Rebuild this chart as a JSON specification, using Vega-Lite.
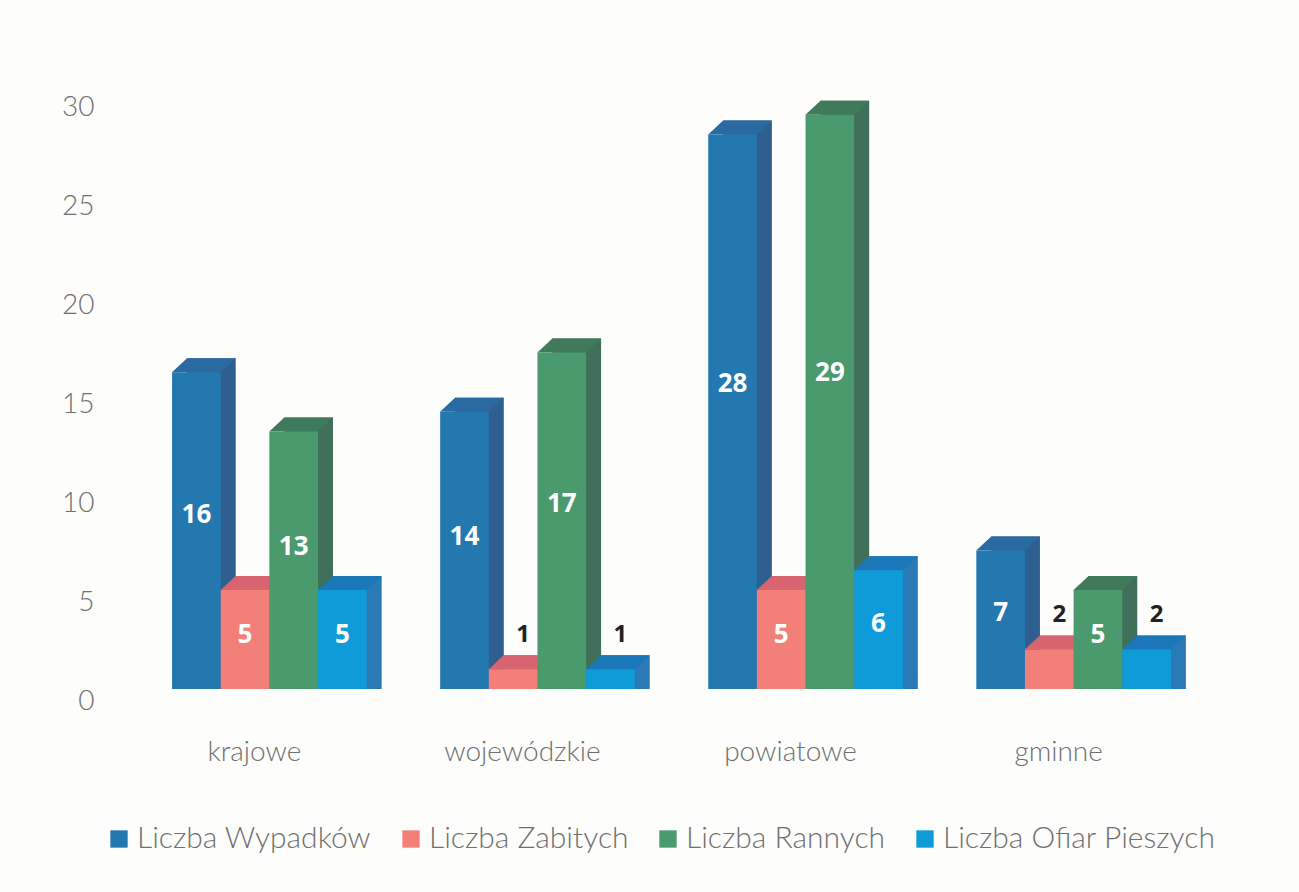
{
"$schema":"https://vega.github.io/schema/vega-lite/v6.json",
"autosize":{"type":"none"},
"padding":{"left":134,"top":95,"right":90,"bottom":203},
"width":1075,"height":594,
"background":"#fdfdfb",
"config":{"view":{"stroke":null},"font":"Lato"},
"data":{"values":[
{"droga":"krajowe","seria":"Liczba Wypadków","wartosc":16},
{"droga":"krajowe","seria":"Liczba Zabitych","wartosc":5},
{"droga":"krajowe","seria":"Liczba Rannych","wartosc":13},
{"droga":"krajowe","seria":"Liczba Ofiar Pieszych","wartosc":5},
{"droga":"wojewódzkie","seria":"Liczba Wypadków","wartosc":14},
{"droga":"wojewódzkie","seria":"Liczba Zabitych","wartosc":1},
{"droga":"wojewódzkie","seria":"Liczba Rannych","wartosc":17},
{"droga":"wojewódzkie","seria":"Liczba Ofiar Pieszych","wartosc":1},
{"droga":"powiatowe","seria":"Liczba Wypadków","wartosc":28},
{"droga":"powiatowe","seria":"Liczba Zabitych","wartosc":5},
{"droga":"powiatowe","seria":"Liczba Rannych","wartosc":29},
{"droga":"powiatowe","seria":"Liczba Ofiar Pieszych","wartosc":6},
{"droga":"gminne","seria":"Liczba Wypadków","wartosc":7},
{"droga":"gminne","seria":"Liczba Zabitych","wartosc":2},
{"droga":"gminne","seria":"Liczba Rannych","wartosc":5},
{"droga":"gminne","seria":"Liczba Ofiar Pieszych","wartosc":2}
]},
"encoding":{
"x":{"field":"droga","type":"nominal","sort":["krajowe","wojewódzkie","powiatowe","gminne"],
 "scale":{"paddingInner":0.274,"paddingOuter":0.142},
 "axis":{"title":null,"domain":false,"ticks":false,"labelAngle":0,"labelFontSize":28,"labelColor":"#707070","labelFontWeight":300,"labelOffset":-15,"labelPadding":63,"labelBaseline":"middle"}},
"xOffset":{"field":"seria","type":"nominal","sort":["Liczba Wypadków","Liczba Zabitych","Liczba Rannych","Liczba Ofiar Pieszych"],"scale":{"type":"band","domain":["Liczba Wypadków","Liczba Zabitych","Liczba Rannych","Liczba Ofiar Pieszych"],"paddingInner":0,"paddingOuter":0}},
"y":{"field":"wartosc","type":"quantitative","stack":null,"scale":{"domain":[0,30],"nice":false},
 "axis":{"title":null,"domain":false,"ticks":false,"grid":false,"values":[0,5,10,15,20,25,30],"labelFontSize":28,"labelColor":"#707070","labelFontWeight":300,"labelOffset":12,"labelPadding":40,"labelBaseline":"middle"}}
},
"layer":[
{"mark":{"type":"bar","yOffset":-14,"y2Offset":-14},
 "encoding":{"xOffset":{"field":"seria","type":"nominal","sort":["Liczba Wypadków","Liczba Zabitych","Liczba Rannych","Liczba Ofiar Pieszych"],"scale":{"type":"band","domain":["Liczba Wypadków","Liczba Zabitych","Liczba Rannych","Liczba Ofiar Pieszych"],"range":[15,209.6],"paddingInner":0,"paddingOuter":0}},
 "color":{"field":"seria","type":"nominal","legend":null,"sort":["Liczba Wypadków","Liczba Zabitych","Liczba Rannych","Liczba Ofiar Pieszych"],"scale":{"range":["#2f5f90","#d96a72","#41705a","#2a7ab5"]}}}},
{"mark":{"type":"point","filled":true,"opacity":1,"size":10000,"shape":"M 0.488 0 L 0.788 -0.28 L 0.488 -0.28 Z"},
 "encoding":{"y":{"datum":0,"type":"quantitative"},"color":{"field":"seria","type":"nominal","legend":null,"sort":["Liczba Wypadków","Liczba Zabitych","Liczba Rannych","Liczba Ofiar Pieszych"],"scale":{"range":["#2f5f90","#d96a72","#41705a","#2a7ab5"]}}}},
{"mark":{"type":"point","filled":true,"opacity":1,"size":10000,"shape":"M -0.488 0 L -0.188 -0.28 L 0.788 -0.28 L 0.488 0 Z"},
 "encoding":{"color":{"field":"seria","type":"nominal","legend":null,"sort":["Liczba Wypadków","Liczba Zabitych","Liczba Rannych","Liczba Ofiar Pieszych"],"scale":{"range":["#2a6aa0","#d8646f","#3f7a5a","#1a78b8"]}}}},
{"mark":{"type":"bar"},
 "encoding":{"color":{"field":"seria","type":"nominal","sort":["Liczba Wypadków","Liczba Zabitych","Liczba Rannych","Liczba Ofiar Pieszych"],"scale":{"domain":["Liczba Wypadków","Liczba Zabitych","Liczba Rannych","Liczba Ofiar Pieszych"],"range":["#2478b0","#f28079","#4a9a6e","#0f9bd8"]},
 "legend":{"title":null,"orient":"none","direction":"horizontal","columns":4,"legendX":-30,"legendY":729,"symbolType":"square","symbolSize":300,"symbolStrokeWidth":0,"labelFontSize":30,"labelColor":"#707070","labelFontWeight":300,"columnPadding":24,"labelOffset":3,"labelLimit":400,"gridAlign":"each"}}}},
{"transform":[{"filter":"datum.wartosc>=5"},{"calculate":"datum.wartosc*0.55","as":"pozycja"}],
 "mark":{"type":"text","color":"white","fontWeight":"bold","fontSize":26,"font":"Open Sans","baseline":"middle"},
 "encoding":{"y":{"field":"pozycja","type":"quantitative"},"text":{"field":"wartosc","type":"quantitative"}}},
{"transform":[{"filter":"datum.wartosc<5"}],
 "mark":{"type":"text","color":"#222222","fontWeight":"bold","fontSize":24,"font":"Open Sans","baseline":"middle","dx":10,"dy":-34},
 "encoding":{"text":{"field":"wartosc","type":"quantitative"}}}
],
"resolve":{"scale":{"color":"independent","xOffset":"independent"}}
}
